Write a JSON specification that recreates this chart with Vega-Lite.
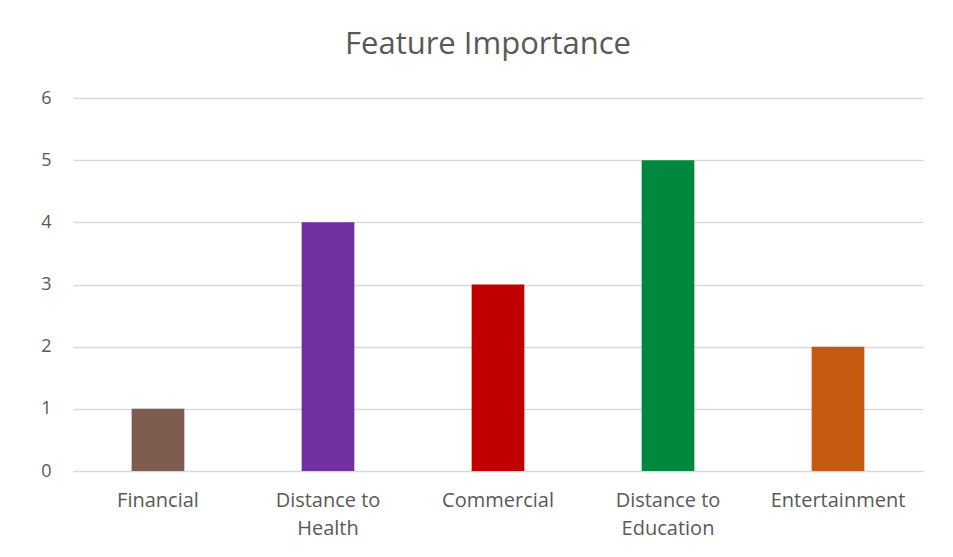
{
  "$schema": "https://vega.github.io/schema/vega-lite/v6.json",
  "autosize": "none",
  "width": 850,
  "height": 373,
  "padding": {"left": 73, "top": 98, "right": 30, "bottom": 86},
  "background": "white",
  "title": {
    "text": "Feature Importance",
    "font": "Open Sans",
    "fontSize": 31,
    "fontWeight": "normal",
    "color": "#595959",
    "anchor": "middle",
    "dx": -10,
    "offset": 28
  },
  "data": {
    "values": [
      {"feature": "Financial", "importance": 1, "color": "#7e5c4f"},
      {"feature": "Distance to Health", "importance": 4, "color": "#7030a0"},
      {"feature": "Commercial", "importance": 3, "color": "#c00000"},
      {"feature": "Distance to Education", "importance": 5, "color": "#00883e"},
      {"feature": "Entertainment", "importance": 2, "color": "#c55a11"}
    ]
  },
  "mark": {"type": "bar"},
  "encoding": {
    "x": {
      "field": "feature",
      "type": "nominal",
      "sort": null,
      "scale": {"paddingInner": 0.69, "paddingOuter": 0.345},
      "axis": {
        "title": null,
        "labelAngle": 0,
        "labelFont": "Open Sans",
        "labelFontSize": 20,
        "labelColor": "#595959",
        "labelPadding": 19,
        "labelLineHeight": 28,
        "ticks": false,
        "domain": true,
        "domainColor": "#d9d9d9",
        "labelExpr": "datum.label == 'Distance to Health' ? ['Distance to', 'Health'] : datum.label == 'Distance to Education' ? ['Distance to', 'Education'] : datum.label"
      }
    },
    "y": {
      "field": "importance",
      "type": "quantitative",
      "scale": {"domain": [0, 6]},
      "axis": {
        "title": null,
        "values": [0, 1, 2, 3, 4, 5, 6],
        "labelFont": "Open Sans",
        "labelFontSize": 18,
        "labelColor": "#595959",
        "labelPadding": 22,
        "ticks": false,
        "domain": false,
        "grid": true,
        "gridColor": "#d9d9d9",
        "gridWidth": 1.5
      }
    },
    "color": {"field": "color", "type": "nominal", "scale": null, "legend": null}
  },
  "config": {"view": {"stroke": null}}
}
